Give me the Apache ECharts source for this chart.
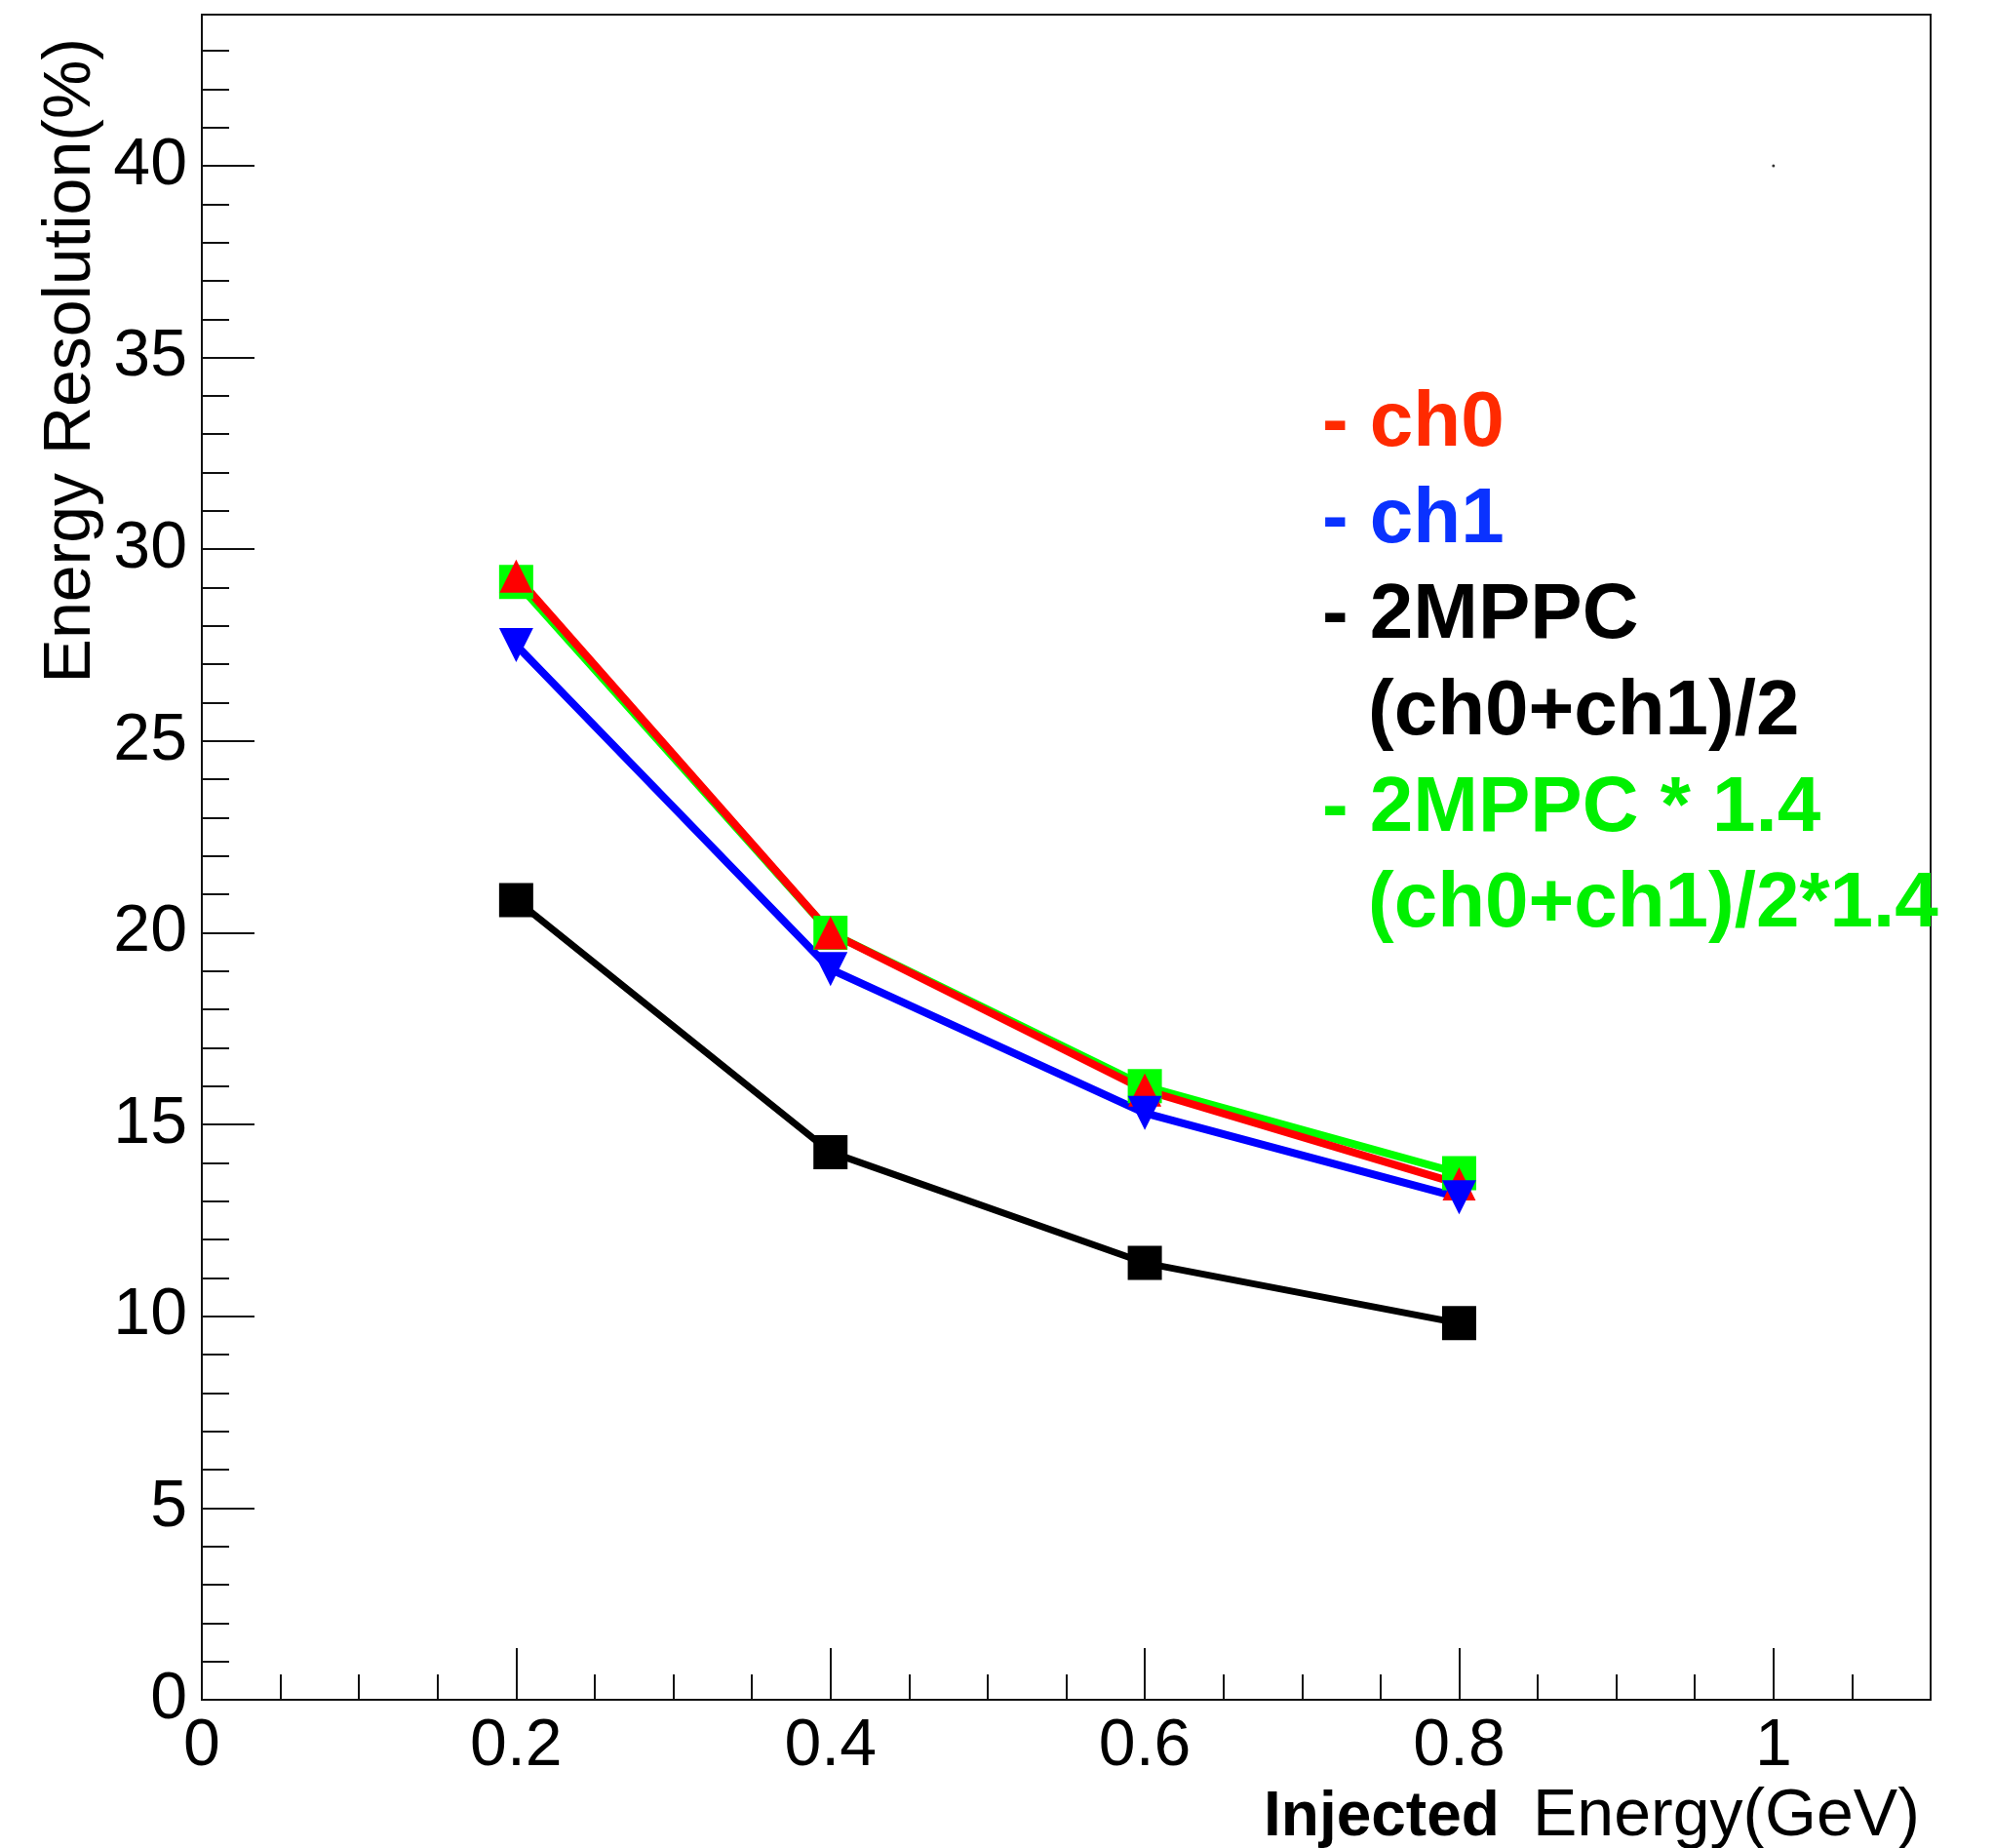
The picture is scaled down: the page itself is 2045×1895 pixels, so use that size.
<!DOCTYPE html>
<html>
<head>
<meta charset="utf-8">
<script src="https://cdn.jsdelivr.net/npm/echarts@6/dist/echarts.min.js"></script>
<style>
html,body{margin:0;padding:0;background:#fff;}
#chart{width:2045px;height:1895px;}
</style>
</head>
<body>
<div id="chart"></div>
<script>
// ---- data ----
const xValues = [0.2, 0.4, 0.6, 0.8];
const ch0 = [29.3, 20.0, 15.9, 13.45];
const ch1 = [27.5, 19.05, 15.3, 13.1];
const mppc = [20.85, 14.28, 11.39, 9.82];
const mppc14 = [29.15, 20.0, 16.0, 13.73];
const strayDot = [[1.0, 40.0]];

const xTicks = [0, 0.2, 0.4, 0.6, 0.8, 1];
const yTicks = [0, 5, 10, 15, 20, 25, 30, 35, 40];
const xMin = 0, xMax = 1.1, xMinorStep = 0.05;
const yMin = 0, yMax = 43.94, yMinorStep = 1;

const legendLines = [
  {text: '- ch0', color: '#ff2a00', x: 1356},
  {text: '- ch1', color: '#0a32ff', x: 1356},
  {text: '- 2MPPC', color: '#000000', x: 1356},
  {text: '(ch0+ch1)/2', color: '#000000', x: 1403},
  {text: '- 2MPPC * 1.4', color: '#00f000', x: 1356},
  {text: '(ch0+ch1)/2*1.4', color: '#00f000', x: 1403}
];
const legendBaselines = [463, 562, 660, 759, 858, 956];

const yTitle = 'Energy Resolution(%)';
const xTitleBold = 'Injected';
const xTitleRegular = 'Energy(GeV)';

// ---- build ----
const FONT = '"Liberation Sans", Arial, Helvetica, sans-serif';
const xMinor = [];
for (let i = 0; i * xMinorStep <= xMax + 1e-9; i++) xMinor.push(+(i * xMinorStep).toFixed(4));
const yMinor = [];
for (let i = 0; i * yMinorStep <= yMax; i++) yMinor.push(i * yMinorStep);

function pairs(ys) { return xValues.map((x, i) => [x, ys[i]]); }

const GL = 207, GT = 15, GR = 1980, GB = 1743;

const chart = echarts.init(document.getElementById('chart'), null, {renderer: 'canvas'});

function lineSeries(name, data, color, symbol, size, rotate, width) {
  return {
    name: name, type: 'line', data: pairs(data),
    xAxisIndex: 0, yAxisIndex: 0,
    symbol: symbol, symbolSize: size, symbolRotate: rotate,
    showSymbol: true,
    lineStyle: {color: color, width: width},
    itemStyle: {color: color, borderWidth: 0},
    emphasis: {disabled: true},
    z: 3
  };
}

const graphics = [];
legendLines.forEach((l, i) => {
  graphics.push({
    type: 'text',
    x: l.x, y: legendBaselines[i] - 0.3465 * 80,
    style: {text: l.text, fill: l.color, font: 'bold 80px ' + FONT, align: 'left', verticalAlign: 'middle'},
    z: 10
  });
});
graphics.push({
  type: 'text', x: 73, y: 39, rotation: Math.PI / 2,
  style: {text: yTitle, fill: '#000', font: '68px ' + FONT, align: 'right', verticalAlign: 'middle'},
  z: 10
});
graphics.push({
  type: 'text', x: 1296, y: 1887 - 0.3465 * 64,
  style: {text: xTitleBold, fill: '#000', font: 'bold 64px ' + FONT, align: 'left', verticalAlign: 'middle'},
  z: 10
});
graphics.push({
  type: 'text', x: 1572, y: 1887 - 0.3465 * 68,
  style: {text: xTitleRegular, fill: '#000', font: '68px ' + FONT, align: 'left', verticalAlign: 'middle'},
  z: 10
});

const option = {
  animation: false,
  backgroundColor: '#ffffff',
  grid: {left: GL, top: GT, width: GR - GL, height: GB - GT, show: true, borderColor: '#111', borderWidth: 2, backgroundColor: 'transparent', containLabel: false},
  xAxis: [
    {
      type: 'value', min: xMin, max: xMax, position: 'bottom',
      axisLine: {show: true, onZero: false, lineStyle: {color: '#111', width: 2}},
      axisTick: {show: true, inside: true, length: 53, customValues: xTicks, lineStyle: {color: '#111', width: 2}},
      axisLabel: {show: true, customValues: xTicks, fontSize: 68, fontFamily: FONT, color: '#000', margin: 14, formatter: v => String(v)},
      splitLine: {show: false}
    },
    {
      type: 'value', min: xMin, max: xMax, position: 'bottom',
      axisLine: {show: false, onZero: false},
      axisTick: {show: true, inside: true, length: 26, customValues: xMinor, lineStyle: {color: '#111', width: 2}},
      axisLabel: {show: false},
      splitLine: {show: false}
    }
  ],
  yAxis: [
    {
      type: 'value', min: yMin, max: yMax, position: 'left',
      axisLine: {show: true, onZero: false, lineStyle: {color: '#111', width: 2}},
      axisTick: {show: true, inside: true, length: 54, customValues: yTicks, lineStyle: {color: '#111', width: 2}},
      axisLabel: {show: true, customValues: yTicks, fontSize: 68, fontFamily: FONT, color: '#000', margin: 15, formatter: v => String(v)},
      splitLine: {show: false}
    },
    {
      type: 'value', min: yMin, max: yMax, position: 'left',
      axisLine: {show: false, onZero: false},
      axisTick: {show: true, inside: true, length: 28, customValues: yMinor, lineStyle: {color: '#111', width: 2}},
      axisLabel: {show: false},
      splitLine: {show: false}
    }
  ],
  series: [
    lineSeries('2MPPC', mppc, '#000000', 'rect', 35, 0, 7),
    lineSeries('2MPPC * 1.4', mppc14, '#00ff00', 'rect', 35, 0, 8),
    lineSeries('ch0', ch0, '#ff0000', 'triangle', 34, 0, 8),
    lineSeries('ch1', ch1, '#0000ff', 'triangle', 35, 180, 8),
    {
      name: 'dot', type: 'scatter', data: strayDot, symbol: 'circle', symbolSize: 3,
      itemStyle: {color: '#000'}, emphasis: {disabled: true}, xAxisIndex: 0, yAxisIndex: 0
    }
  ],
  graphic: graphics
};
chart.setOption(option);
</script>
</body>
</html>
